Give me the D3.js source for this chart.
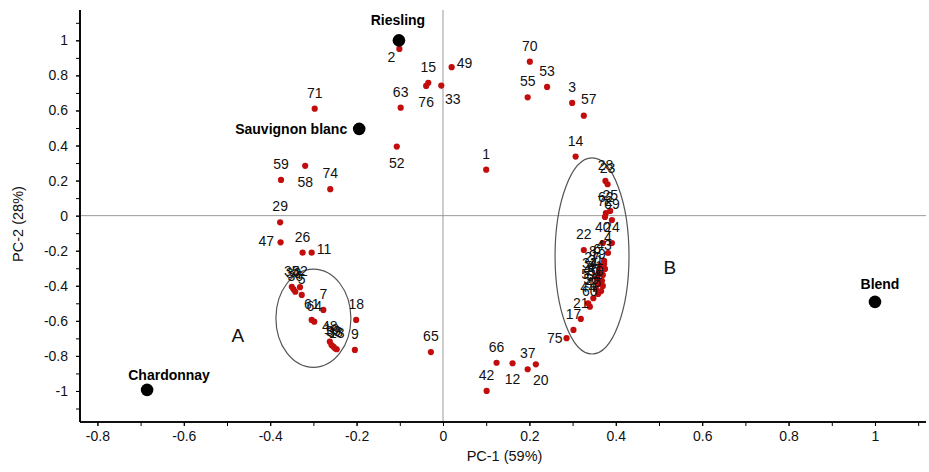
<!DOCTYPE html>
<html><head><meta charset="utf-8">
<script src="https://cdn.jsdelivr.net/npm/d3@7"></script>
<style>
body{margin:0;background:#fff;}
text{font-family:"Liberation Sans",Arial,Helvetica,sans-serif;}
</style></head>
<body><svg id="c" width="929" height="472"></svg>
<script>
// ---- data ----
const sampleIds = [1,2,3,4,5,6,7,8,9,10,11,12,13,14,15,17,18,19,20,21,22,23,24,25,26,27,28,29,30,31,32,33,34,35,36,37,38,39,40,41,42,43,44,45,46,47,48,49,50,51,52,53,54,55,56,57,58,59,60,61,62,63,64,65,66,69,70,71,72,74,75,76];
const pc1 = [0.100,-0.101,0.299,0.382,-0.327,0.373,-0.277,0.363,-0.204,-0.258,-0.304,0.161,-0.246,0.307,-0.034,0.302,-0.201,0.375,0.215,0.319,0.326,0.381,0.391,0.387,-0.325,0.361,0.376,-0.377,-0.346,0.370,-0.331,-0.004,0.356,-0.350,-0.342,0.196,-0.250,-0.254,0.370,0.368,0.101,0.373,0.336,0.359,0.348,-0.376,-0.262,0.020,0.370,0.354,-0.107,0.241,0.366,0.196,0.359,0.326,-0.319,-0.375,0.340,-0.304,0.377,-0.098,-0.298,-0.028,0.124,0.391,0.201,-0.297,0.375,-0.261,0.286,-0.039];
const pc2 = [0.262,0.951,0.643,-0.213,-0.452,-0.276,-0.538,-0.287,-0.766,-0.738,-0.211,-0.842,-0.762,0.337,0.758,-0.652,-0.595,-0.304,-0.848,-0.589,-0.196,0.179,-0.156,0.027,-0.211,-0.321,0.198,-0.038,-0.420,-0.338,-0.408,0.742,-0.355,-0.406,-0.434,-0.876,-0.757,-0.747,-0.156,-0.372,-1.000,-0.258,-0.500,-0.390,-0.471,-0.152,-0.719,0.847,-0.401,-0.418,0.394,0.734,-0.430,0.675,-0.447,0.570,0.284,0.204,-0.519,-0.595,0.015,0.616,-0.605,-0.778,-0.839,-0.025,0.878,0.610,-0.007,0.151,-0.699,0.740];
// label placement around each sample (layout only)
const labelPlace = ["T","BL","T","T","T","TL","T","TL","T","T","R","B","T","T","T","T","T","TL","BR","T","T","T","T","T","T","TL","T","T","T","TL","T","BR2","TL","T","T","T","T","T","T","TL","T","T","T","TL","T","L","T","R","TL","TL","B","T","TL","T","TL","TR","B","T","T","T","T","T","T","T","T","T","T","T","T","T","L2","B"];

const refNames = ["Riesling","Sauvignon blanc","Chardonnay","Blend"];
const refPc1 = [-0.102,-0.194,-0.685,1.000];
const refPc2 = [1.000,0.495,-0.994,-0.492];
const refPlace = ["RT","RL","RC","RB"];

const groupNames = ["A","B"];
const groupCx = [-0.300,0.345];
const groupCy = [-0.585,-0.230];
const groupRx = [0.0868,0.0856];
const groupRy = [0.280,0.559];
const groupLabelX = [-0.475,0.525];
const groupLabelY = [-0.72,-0.33];

const xTicks = [-0.8,-0.6,-0.4,-0.2,0,0.2,0.4,0.6,0.8,1];
const yTicks = [-1,-0.8,-0.6,-0.4,-0.2,0,0.2,0.4,0.6,0.8,1];
const xLabel = "PC-1 (59%)", yLabel = "PC-2 (28%)";

// ---- layout ----
const svg = d3.select("#c");
const L = 80, R = 926, T = 10, B = 422;
const x = d3.scaleLinear().domain([-0.8403, 1.1181]).range([L, R]);
const y = d3.scaleLinear().domain([-1.177, 1.173]).range([B, T]);
const fmt = d => String(+d.toFixed(1));

// zero lines
svg.append("line").attr("x1", x(0)).attr("x2", x(0)).attr("y1", T).attr("y2", B)
  .attr("stroke", "#9a9a9a").attr("stroke-width", 1);
svg.append("line").attr("x1", L).attr("x2", R).attr("y1", y(0)).attr("y2", y(0))
  .attr("stroke", "#9a9a9a").attr("stroke-width", 1);

// axes
const minorX = d3.range(-8, 12).map(i => i / 10);
const minorY = d3.range(-11, 12).map(i => i / 10);
const gx = svg.append("g").attr("transform", `translate(0,${B})`)
  .call(d3.axisBottom(x).tickValues(minorX).tickSize(4).tickFormat(""));
const gx2 = svg.append("g").attr("transform", `translate(0,${B})`)
  .call(d3.axisBottom(x).tickValues(xTicks).tickSize(4).tickPadding(5).tickFormat(fmt));
const gy = svg.append("g").attr("transform", `translate(${L},0)`)
  .call(d3.axisLeft(y).tickValues(minorY).tickSize(4).tickFormat(""));
const gy2 = svg.append("g").attr("transform", `translate(${L},0)`)
  .call(d3.axisLeft(y).tickValues(yTicks).tickSize(4).tickPadding(8).tickFormat(fmt));
[gx, gx2, gy, gy2].forEach(g => {
  g.select(".domain").attr("stroke", "#000").attr("stroke-width", 1.6);
  g.selectAll(".tick line").attr("stroke", "#000").attr("stroke-width", 1);
  g.selectAll(".tick text").attr("font-size", 14).attr("fill", "#111")
    .attr("font-family", "'Liberation Sans',Arial,sans-serif");
});
gx2.select(".domain").attr("d", `M${L},0H${R}`);
gx.select(".domain").attr("d", `M${L},0H${R}`);
gy.select(".domain").attr("d", `M0,${T}V${B}`);
gy2.select(".domain").attr("d", `M0,${T}V${B}`);

svg.append("text").attr("x", (L + 929) / 2).attr("y", 461).attr("text-anchor", "middle")
  .attr("font-size", 14.5).attr("fill", "#111").text(xLabel);
svg.append("text").attr("transform", `translate(23,${(T + B) / 2 + 8}) rotate(-90)`)
  .attr("text-anchor", "middle").attr("font-size", 14.5).attr("fill", "#111").text(yLabel);

// group ellipses
groupNames.forEach((g, i) => {
  svg.append("ellipse")
    .attr("cx", x(groupCx[i])).attr("cy", y(groupCy[i]))
    .attr("rx", x(groupCx[i] + groupRx[i]) - x(groupCx[i]))
    .attr("ry", y(groupCy[i] - groupRy[i]) - y(groupCy[i]))
    .attr("fill", "none").attr("stroke", "#555").attr("stroke-width", 1.2);
  svg.append("text").attr("x", x(groupLabelX[i])).attr("y", y(groupLabelY[i]))
    .attr("text-anchor", "middle").attr("font-size", 19).attr("fill", "#111").text(g);
});

// samples
const samples = sampleIds.map((id, i) => ({id, x: pc1[i], y: pc2[i], p: labelPlace[i]}));
const off = {
  T: [0, -11, "middle"], B: [0, 21, "middle"], L: [-6.5, 4, "end"], L2: [-4, 5, "end"],
  R: [5, 1, "start"], BL: [-8, 13, "middle"], BR: [5, 21, "middle"], BR2: [11.5, 18, "middle"],
  TR: [5, -12, "middle"], TL: [-7, -10, "middle"]
};
svg.append("g").selectAll("circle").data(samples).join("circle")
  .attr("cx", d => x(d.x)).attr("cy", d => y(d.y)).attr("r", 3.1).attr("fill", "#c30d0d");
svg.append("g").selectAll("text").data(samples).join("text")
  .attr("x", d => x(d.x) + off[d.p][0]).attr("y", d => y(d.y) + off[d.p][1])
  .attr("text-anchor", d => off[d.p][2]).attr("font-size", 14).attr("fill", "#111")
  .text(d => d.id);

// reference wines
const refs = refNames.map((n, i) => ({n, x: refPc1[i], y: refPc2[i], p: refPlace[i]}));
const roff = {RT: [-1, -15, "middle"], RL: [-12, 5, "end"], RC: [22, -10, "middle"], RB: [5, -13, "middle"]};
svg.append("g").selectAll("circle").data(refs).join("circle")
  .attr("cx", d => x(d.x)).attr("cy", d => y(d.y)).attr("r", 6.3).attr("fill", "#000");
svg.append("g").selectAll("text").data(refs).join("text")
  .attr("x", d => x(d.x) + roff[d.p][0]).attr("y", d => y(d.y) + roff[d.p][1])
  .attr("text-anchor", d => roff[d.p][2]).attr("font-size", 14).attr("font-weight", "bold")
  .attr("fill", "#000").text(d => d.n);
</script></body></html>
